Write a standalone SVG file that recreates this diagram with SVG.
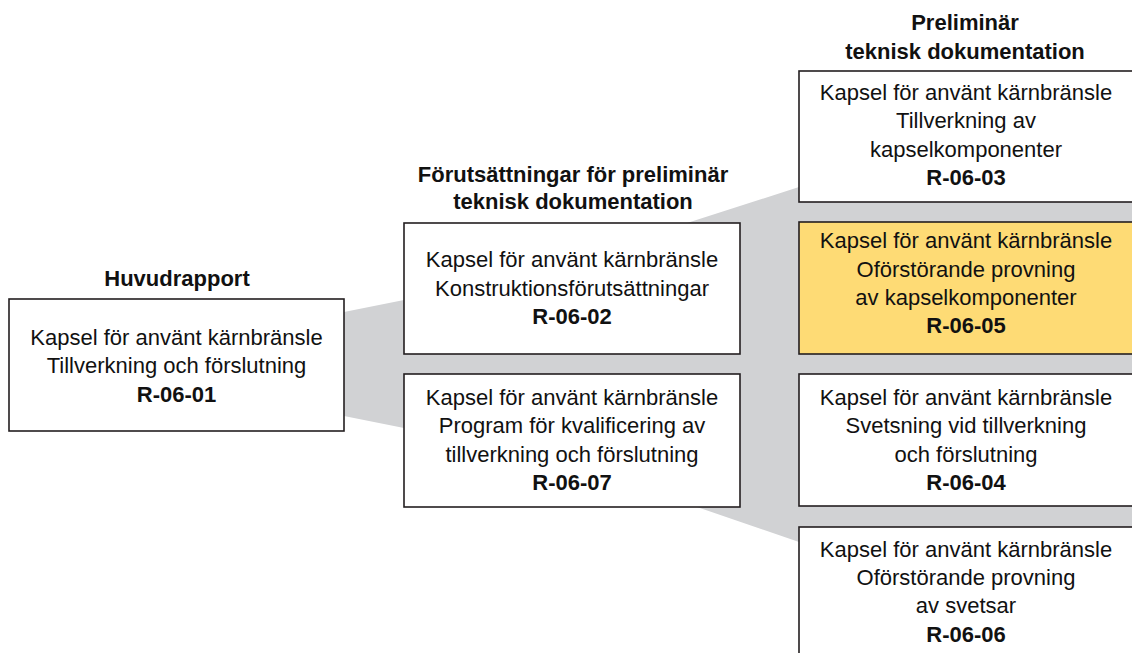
<svg xmlns="http://www.w3.org/2000/svg" width="1132" height="653" viewBox="0 0 1132 653">
  <style>
    .box { fill: #ffffff; stroke: #231f20; stroke-width: 1.6; }
    .hl { fill: #fedb75; }
    .band { fill: #d1d2d4; stroke: none; }
    text { font-family: "Liberation Sans", Arial, sans-serif; font-size: 22px; fill: #111111; text-anchor: middle; }
    .b { font-weight: bold; }
  </style>
  <rect width="1132" height="653" fill="#ffffff"/>

  <!-- grey bands linking the columns -->
  <g id="connectors">
    <polygon class="band" points="344,312 404,300 600,300 600,428 404,428 344,416"/>
    <rect class="band" x="404" y="350" width="340" height="28"/>
    <polygon class="band" points="600,223 687,223 799,187 1132,187 1132,542 799,542 697,507 600,507"/>
  </g>

  <!-- column headings -->
  <g id="headings">
    <text class="b" x="177" y="286">Huvudrapport</text>
    <text class="b" x="573" y="182">Förutsättningar för preliminär</text>
    <text class="b" x="573" y="209">teknisk dokumentation</text>
    <text class="b" x="965" y="30">Preliminär</text>
    <text class="b" x="965" y="59">teknisk dokumentation</text>
  </g>

  <g id="r-06-01">
    <rect class="box" x="9" y="299" width="335" height="132"/>
    <text x="176.5" y="345">Kapsel för använt kärnbränsle</text>
    <text x="176.5" y="373">Tillverkning och förslutning</text>
    <text class="b" x="176.5" y="402">R-06-01</text>
  </g>

  <g id="r-06-02">
    <rect class="box" x="404" y="223" width="336" height="131"/>
    <text x="572" y="267">Kapsel för använt kärnbränsle</text>
    <text x="572" y="296">Konstruktionsförutsättningar</text>
    <text class="b" x="572" y="324">R-06-02</text>
  </g>

  <g id="r-06-07">
    <rect class="box" x="404" y="374" width="336" height="133"/>
    <text x="572" y="405">Kapsel för använt kärnbränsle</text>
    <text x="572" y="433">Program för kvalificering av</text>
    <text x="572" y="462">tillverkning och förslutning</text>
    <text class="b" x="572" y="490">R-06-07</text>
  </g>

  <g id="r-06-03">
    <rect class="box" x="799" y="71" width="345" height="131"/>
    <text x="966" y="100">Kapsel för använt kärnbränsle</text>
    <text x="966" y="128">Tillverkning av</text>
    <text x="966" y="157">kapselkomponenter</text>
    <text class="b" x="966" y="185">R-06-03</text>
  </g>

  <g id="r-06-05">
    <rect class="box hl" x="799" y="222" width="345" height="132"/>
    <text x="966" y="248">Kapsel för använt kärnbränsle</text>
    <text x="966" y="277">Oförstörande provning</text>
    <text x="966" y="305">av kapselkomponenter</text>
    <text class="b" x="966" y="333">R-06-05</text>
  </g>

  <g id="r-06-04">
    <rect class="box" x="799" y="374" width="345" height="132"/>
    <text x="966" y="405">Kapsel för använt kärnbränsle</text>
    <text x="966" y="433">Svetsning vid tillverkning</text>
    <text x="966" y="462">och förslutning</text>
    <text class="b" x="966" y="490">R-06-04</text>
  </g>

  <g id="r-06-06">
    <rect class="box" x="799" y="527" width="345" height="140"/>
    <text x="966" y="557">Kapsel för använt kärnbränsle</text>
    <text x="966" y="585">Oförstörande provning</text>
    <text x="966" y="613">av svetsar</text>
    <text class="b" x="966" y="642">R-06-06</text>
  </g>
</svg>
